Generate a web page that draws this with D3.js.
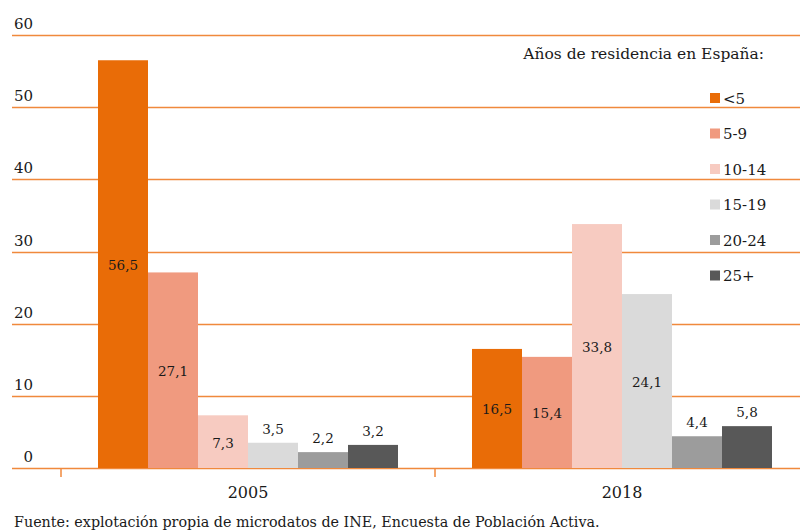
<!DOCTYPE html>
<html><head><meta charset="utf-8">
<script src="https://cdn.jsdelivr.net/npm/d3@7"></script>
<style>
body{margin:0;background:#fff;}
svg text{font-family:"DejaVu Serif",serif;fill:#1a1a1a;}
</style></head>
<body><svg id="chart" width="800" height="530"></svg>
<script>
const years = ["2005", "2018"];
const categories = ["<5", "5-9", "10-14", "15-19", "20-24", "25+"];
const values2005 = [56.5, 27.1, 7.3, 3.5, 2.2, 3.2];
const values2018 = [16.5, 15.4, 33.8, 24.1, 4.4, 5.8];
const colors = ["#E96C07", "#F09A7F", "#F7CBC1", "#DADADA", "#9C9C9C", "#585858"];
const yTicks = [0, 10, 20, 30, 40, 50, 60];
const legendTitle = "Años de residencia en España:";
const source = "Fuente: explotación propia de microdatos de INE, Encuesta de Población Activa.";

const series = {"2005": values2005, "2018": values2018};
const svg = d3.select("#chart");
const y = d3.scaleLinear().domain([0, 60]).range([468, 35]);
const x0 = d3.scaleBand().domain(years).range([61, 809]);
const x1 = d3.scaleBand().domain(categories).range([37, 337]);
const color = d3.scaleOrdinal().domain(categories).range(colors);
const fmt = v => d3.format(".1f")(v).replace(".", ",");

// gridlines
svg.append("g").selectAll("line").data(yTicks).join("line")
  .attr("x1", 12).attr("x2", 800)
  .attr("y1", d => Math.round(y(d)) + 0.5).attr("y2", d => Math.round(y(d)) + 0.5)
  .attr("stroke", "#F0893C").attr("stroke-width", 1.5);
svg.append("g").selectAll("text").data(yTicks).join("text")
  .attr("x", 33).attr("y", d => y(d) - 6)
  .attr("text-anchor", "end").attr("font-size", 15).text(d => d);

// bars
const groups = svg.append("g").selectAll("g").data(years).join("g")
  .attr("transform", d => `translate(${x0(d)},0)`);
groups.selectAll("rect").data(yr => categories.map((c, i) => ({c, v: series[yr][i]}))).join("rect")
  .attr("x", d => x1(d.c)).attr("width", x1.bandwidth())
  .attr("y", d => y(d.v)).attr("height", d => y(0) - y(d.v))
  .attr("fill", d => color(d.c));
groups.selectAll("text.val").data(yr => categories.map((c, i) => ({c, v: series[yr][i]}))).join("text")
  .attr("class", "val")
  .attr("x", d => x1(d.c) + x1.bandwidth() / 2)
  .attr("y", d => d.v > 7 ? (y(d.v) + y(0)) / 2 + 6 : y(d.v) - 9)
  .attr("text-anchor", "middle").attr("font-size", 13.5).text(d => fmt(d.v));

// x axis ticks and labels
svg.append("g").selectAll("line").data([61, 61 + x0.bandwidth()]).join("line")
  .attr("x1", d => d).attr("x2", d => d).attr("y1", 468).attr("y2", 477)
  .attr("stroke", "#F0893C").attr("stroke-width", 1.5);
svg.append("g").selectAll("text").data(years).join("text")
  .attr("x", d => x0(d) + x0.bandwidth() / 2).attr("y", 498)
  .attr("text-anchor", "middle").attr("font-size", 16).text(d => d);

// legend
svg.append("text").attr("x", 764).attr("y", 59).attr("text-anchor", "end")
  .attr("font-size", 15.5).text(legendTitle);
const lg = svg.append("g").selectAll("g").data(categories).join("g")
  .attr("transform", (d, i) => `translate(710,${98 + i * 35.5})`);
lg.append("rect").attr("x", 0).attr("y", -5).attr("width", 10).attr("height", 10).attr("fill", d => color(d));
lg.append("text").attr("x", 13).attr("y", 5.5).attr("font-size", 15).text(d => d);

svg.append("text").attr("x", 14).attr("y", 527).attr("font-size", 14.3).text(source);
</script></body></html>
